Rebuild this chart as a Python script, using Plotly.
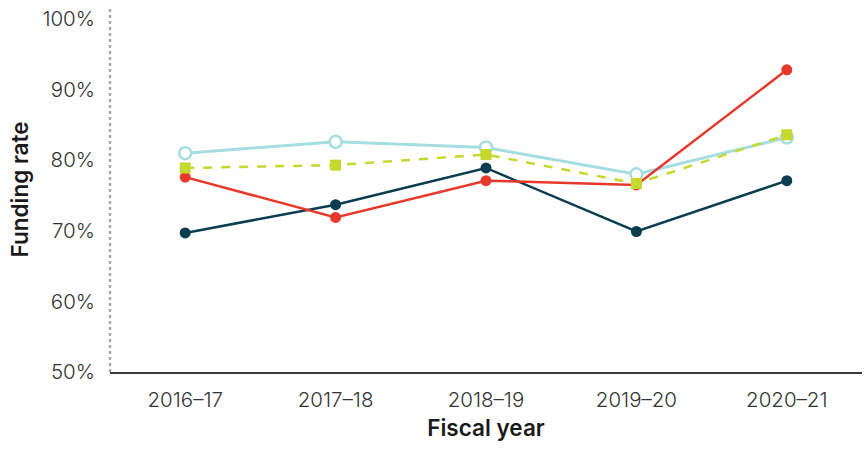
import plotly.graph_objects as go

## Donnees ------------------------------------------------------------------

years = ["2016–17", "2017–18", "2018–19", "2019–20", "2020–21"]

light_blue = [81.0, 82.6, 81.8, 78.0, 83.2]
navy = [69.7, 73.7, 78.9, 69.9, 77.1]
red = [77.6, 71.9, 77.1, 76.5, 92.8]
green = [78.9, 79.3, 80.8, 76.7, 83.6]

y_ticks = [50, 60, 70, 80, 90, 100]
y_tick_labels = ["50%", "60%", "70%", "80%", "90%", "100%"]

## Figure -------------------------------------------------------------------

fig = go.Figure()

fig.add_trace(go.Scatter(x=years, y=light_blue, mode="lines+markers",
                         line=dict(color="#a5dde0", width=3),
                         marker=dict(symbol="circle", size=12, color="white",
                                     line=dict(color="#a5dde0", width=2.5))))

fig.add_trace(go.Scatter(x=years, y=navy, mode="lines+markers",
                         line=dict(color="#0b3d50", width=2.5),
                         marker=dict(symbol="circle", size=11, color="#0b3d50")))

fig.add_trace(go.Scatter(x=years, y=red, mode="lines+markers",
                         line=dict(color="#e7392b", width=2.5),
                         marker=dict(symbol="circle", size=11, color="#e7392b")))

fig.add_trace(go.Scatter(x=years, y=green, mode="lines+markers",
                         line=dict(color="#c4d82e", width=2.5, dash="dash"),
                         marker=dict(symbol="square", size=11, color="#c4d82e")))

# axe y en pointilles
fig.add_shape(type="line", xref="paper", yref="paper", x0=0, x1=0, y0=0, y1=1,
              line=dict(color="#a8a8a8", width=2.5, dash="dot"))

fig.update_xaxes(range=[-0.5, 4.5], showgrid=False, showline=True, automargin=False,
                 linecolor="#3a3a3a", linewidth=1.5, ticks="",
                 ticklabelstandoff=9,
                 tickfont=dict(family="Inter", size=20.5, color="#333333", weight=300),
                 title=dict(text="Fiscal year", standoff=9,
                            font=dict(family="Inter", size=22.5, color="#1a1a1a", weight=600)))

fig.update_yaxes(range=[50, 101.7], showgrid=False, showline=False, zeroline=False,
                 automargin=False,
                 tickvals=y_ticks, ticktext=y_tick_labels, ticks="",
                 ticklabelstandoff=14,
                 tickfont=dict(family="Inter", size=20.5, color="#333333", weight=300),
                 title=dict(text="Funding rate", standoff=7,
                            font=dict(family="Inter", size=22.5, color="#1a1a1a", weight=600)))

fig.update_layout(width=865, height=451, showlegend=False,
                  plot_bgcolor="white", paper_bgcolor="white",
                  margin=dict(l=110, r=3, t=7, b=79))

# pas de marge autour de la page
fig.write_html("out.html", config={"displayModeBar": False},
               post_script="document.body.style.margin='0';")
